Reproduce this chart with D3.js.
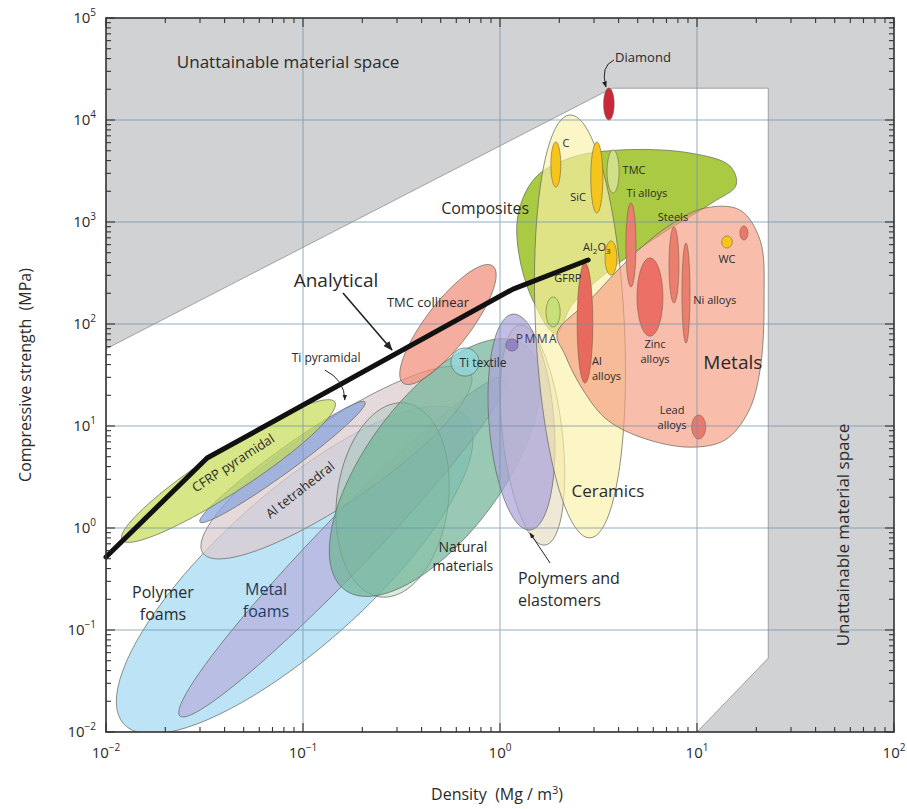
<!DOCTYPE html>
<html>
<head>
<meta charset="utf-8">
<script src="https://cdn.jsdelivr.net/npm/d3@7"></script>
<style>
  body { margin: 0; background: #fff; }
  text { font-family: "Open Sans", "Noto Sans", sans-serif; fill: #2a2a2a; }
</style>
</head>
<body>
<svg id="chart" width="907" height="809"></svg>
<script>
// ---- axes ----
const xDomain = [0.01, 100];          // density, Mg/m^3
const yDomain = [0.01, 1e5];          // compressive strength, MPa
const xTickValues = [0.01, 0.1, 1, 10, 100];
const xTickExponents = ["\u22122", "\u22121", "0", "1", "2"];
const yTickValues = [0.01, 0.1, 1, 10, 100, 1000, 1e4, 1e5];
const yTickExponents = ["\u22122", "\u22121", "0", "1", "2", "3", "4", "5"];

// boundary of the attainable region [density, strength]
const attainable = [[0.01, 57], [3.7, 2.05e4], [23, 2.05e4], [23, 0.053], [10, 0.01], [0.01, 0.01]];

// material envelopes: two ends of the long axis [density, strength] and width ratio
const envNames  = ["Polymer foams", "Metal foams", "Al tetrahedral", "Natural (wood)", "Natural materials",
                   "Elastomers", "Polymers", "Ti pyramidal", "CFRP pyramidal", "TMC collinear", "Ti textile"];
const envTipA   = [[0.0123, 0.012], [0.0237, 0.01435], [0.031, 0.569], [0.246, 0.211], [0.163, 0.247],
                   [1.692, 0.68], [1.42, 0.955], [0.030, 1.146], [0.01206, 0.762], [0.322, 26.4], [0.664, 30.9]];
const envTipB   = [[0.67, 12.5], [1.06, 29.6], [0.705, 33.8], [0.33, 16.8], [1.34, 62],
                   [1.263, 97.7], [1.164, 125], [0.2065, 17.2], [0.145, 17.2], [0.92, 370], [0.664, 58.2]];
const envRatio  = [0.33, 0.115, 0.25, 0.57, 0.45, 0.27, 0.30, 0.11, 0.17, 0.30, 1.0];
const envColors = ["#a3d8f2", "#b6b0dc", "#dccace", "#8fc4ad", "#72b497",
                   "#eadfc8", "#aca3da", "#86a4dc", "#c8dc58", "#f08e78", "#93d9e2"];

// composites, ceramics and metals families
const compositesOutline = [[1.234, 1172], [1.506, 2700], [2.265, 4240], [4.06, 5080], [9.2, 4750], [14.7, 3540],
                           [15.8, 2300], [11.9, 1536], [6.49, 746], [3.61, 338], [2.32, 154], [1.92, 80],
                           [1.506, 154], [1.263, 424]];
const ceramicsTips = [[2.265, 11200], [2.864, 0.80]];
const ceramicsRatio = 0.21;
const metalsOutline = [[1.95, 81.6], [2.86, 172], [4.57, 444], [7.29, 935], [11.0, 1372], [16.5, 1312],
                       [20.9, 666], [21.9, 172], [20.9, 35.4], [18.2, 13.7], [13.9, 7.3], [9.2, 6.2],
                       [5.14, 7.8], [3.41, 12.0], [2.55, 25.2], [2.14, 49.7]];

// individual materials
const matNames  = ["GFRP", "Al alloys", "C", "SiC", "TMC", "Al2O3", "Ti alloys", "Steels", "Ni alloys",
                   "Zinc alloys", "WC", "W", "Lead alloys", "Diamond", "PMMA"];
const matTipA   = [[1.86, 184], [2.70, 396], [1.92, 6080], [3.10, 6080], [3.75, 5080], [3.66, 651], [4.62, 1536],
                   [7.64, 893], [8.79, 622], [5.77, 444], [14.2, 729], [17.3, 914], [10.2, 12.8], [3.57, 20600], [1.15, 71.3]];
const matTipB   = [[1.86, 93.5], [2.70, 26.4], [1.92, 2200], [3.10, 1225], [3.75, 1925], [3.66, 302], [4.62, 231],
                   [7.64, 161], [8.79, 65], [5.77, 76], [14.2, 556], [17.3, 666], [10.2, 7.46], [3.57, 10000], [1.15, 54.3]];
const matRatio  = [0.47, 0.13, 0.22, 0.17, 0.28, 0.35, 0.12, 0.13, 0.08, 0.33, 0.9, 0.57, 0.58, 0.33, 1.0];
const matColors = ["#c6e07a", "#e8695e", "#f5c51c", "#f5c51c", "#cfe08a", "#f5c51c", "#ea7f70", "#ea7f70",
                   "#ea7f70", "#ec7066", "#f5c51c", "#e8786c", "#ea7a70", "#c8283a", "#8f84c8"];

// analytical bound
const analytical = [[0.01, 0.52], [0.0326, 4.85], [1.164, 220], [2.80, 424]];

// labels: text lines, anchor [density, strength] of the first line
const labels = [
  { t: ["Unattainable material space"], p: [0.084, 37000], s: 17 },
  { t: ["Unattainable material space"], p: [55.1, 0.853], s: 17, rot: -90 },
  { t: ["Diamond"], p: [3.84, 41500], s: 13, a: "start" },
  { t: ["Composites"], p: [0.84, 1372], s: 16 },
  { t: ["C"], p: [2.16, 5960], s: 11 },
  { t: ["SiC"], p: [2.49, 1757], s: 11 },
  { t: ["TMC"], p: [4.79, 3240], s: 11 },
  { t: ["Ti alloys"], p: [5.57, 1925], s: 11 },
  { t: ["Steels"], p: [7.55, 1120], s: 11 },
  { t: ["GFRP"], p: [2.21, 282], s: 11 },
  { t: ["WC"], p: [14.2, 434], s: 11 },
  { t: ["Ni alloys"], p: [12.3, 172], s: 11 },
  { t: ["Zinc", "alloys"], p: [6.12, 64], s: 11 },
  { t: ["Metals"], p: [15.2, 42.4], s: 19 },
  { t: ["Lead", "alloys"], p: [7.47, 14.2], s: 11 },
  { t: ["Al", "alloys"], p: [2.93, 43], s: 11, a: "start" },
  { t: ["Ceramics"], p: [3.53, 2.31], s: 17 },
  { t: ["PMMA"], p: [1.54, 71.3], s: 12, ls: 1.5, c: "#3b3560" },
  { t: ["Ti textile"], p: [0.82, 41.5], s: 12 },
  { t: ["TMC collinear"], p: [0.431, 164], s: 13 },
  { t: ["Analytical"], p: [0.147, 270], s: 19 },
  { t: ["Ti pyramidal"], p: [0.131, 46.4], s: 12 },
  { t: ["CFRP pyramidal"], p: [0.0442, 4.34], s: 13, rot: -33 },
  { t: ["Al tetrahedral"], p: [0.0966, 2.36], s: 13, rot: -38 },
  { t: ["Polymer", "foams"], p: [0.01945, 0.232], s: 16 },
  { t: ["Metal", "foams"], p: [0.0649, 0.248], s: 16, c: "#1f3c63" },
  { t: ["Natural", "materials"], p: [0.648, 0.65], s: 14 },
  { t: ["Polymers and", "elastomers"], p: [1.234, 0.32], s: 16, a: "start" }
];

// pointer arrows [start, (control), end]
const arrows = [
  { pts: [[0.1596, 201], [0.283, 55.6]], w: 1.6 },
  { pts: [[0.129, 35.4], [0.163, 28.2], [0.163, 18.0]], w: 1 },
  { pts: [[1.795, 0.454], [1.42, 0.893]], w: 1 },
  { pts: [[3.79, 38700], [3.22, 33800], [3.45, 21100]], w: 1 }
];

// ---- drawing ----
const svg = d3.select("#chart");
const x = d3.scaleLog().domain(xDomain).range([106, 894]);
const y = d3.scaleLog().domain(yDomain).range([732, 18]);
const [x0, x1] = x.range(), [y1, y0] = y.range();

svg.append("defs").append("clipPath").attr("id", "plot")
  .append("rect").attr("x", x0).attr("y", y0).attr("width", x1 - x0).attr("height", y1 - y0);
const marker = svg.select("defs").append("marker").attr("id", "head")
  .attr("viewBox", "0 0 10 10").attr("refX", 9).attr("refY", 5)
  .attr("markerWidth", 6).attr("markerHeight", 6).attr("orient", "auto-start-reverse");
marker.append("path").attr("d", "M0,1 L10,5 L0,9 z").attr("fill", "#222");

const plot = svg.append("g").attr("clip-path", "url(#plot)");

// unattainable (grey) and attainable (white) space
plot.append("rect").attr("x", x0).attr("y", y0).attr("width", x1 - x0).attr("height", y1 - y0).attr("fill", "#d1d2d4");
plot.append("path")
  .attr("d", d3.line().x(d => x(d[0])).y(d => y(d[1])).curve(d3.curveLinearClosed)(attainable))
  .attr("fill", "#fff").attr("stroke", "#8d8f92").attr("stroke-width", 0.8);

function ellipsePath(a, b, r) {
  const ax = x(a[0]), ay = y(a[1]), bx = x(b[0]), by = y(b[1]);
  const cx = (ax + bx) / 2, cy = (ay + by) / 2, ux = (ax - bx) / 2, uy = (ay - by) / 2;
  const vx = -uy * r, vy = ux * r;
  const pts = d3.range(90).map(i => {
    const t = i / 90 * 2 * Math.PI;
    return [cx + Math.cos(t) * ux + Math.sin(t) * vx, cy + Math.cos(t) * uy + Math.sin(t) * vy];
  });
  return d3.line().curve(d3.curveLinearClosed)(pts);
}
const outline = d3.line().x(d => x(d[0])).y(d => y(d[1])).curve(d3.curveCatmullRomClosed.alpha(0.5));
const edge = "#5e6458";

// lattice, foam, natural and polymer envelopes
envNames.forEach((n, i) => {
  plot.append("path").attr("class", "env").attr("data-name", n)
    .attr("d", ellipsePath(envTipA[i], envTipB[i], envRatio[i]))
    .attr("fill", envColors[i]).attr("fill-opacity", i === 3 ? 0.35 : 0.72)
    .attr("stroke", edge).attr("stroke-width", 0.7);
});

// composites, ceramics, metals
plot.append("path").attr("d", outline(compositesOutline))
  .attr("fill", "#a6c73a").attr("fill-opacity", 0.95).attr("stroke", edge).attr("stroke-width", 0.7);
plot.append("path").attr("d", ellipsePath(ceramicsTips[0], ceramicsTips[1], ceramicsRatio))
  .attr("fill", "#fbf0a8").attr("fill-opacity", 0.66).attr("stroke", edge).attr("stroke-width", 0.7);
plot.append("path").attr("d", outline(metalsOutline))
  .attr("fill", "#f49c80").attr("fill-opacity", 0.66).attr("stroke", edge).attr("stroke-width", 0.7);

// individual materials
matNames.forEach((n, i) => {
  plot.append("path").attr("class", "mat").attr("data-name", n)
    .attr("d", ellipsePath(matTipA[i], matTipB[i], matRatio[i]))
    .attr("fill", matColors[i]).attr("stroke", "#7a5a3a").attr("stroke-width", 0.6);
});

// grid
const grid = svg.append("g").attr("stroke", "#6f93ad").attr("stroke-width", 1).attr("opacity", 0.75);
xTickValues.slice(1, -1).forEach(v => grid.append("line").attr("x1", x(v)).attr("x2", x(v)).attr("y1", y0).attr("y2", y1));
yTickValues.slice(1, -1).forEach(v => grid.append("line").attr("y1", y(v)).attr("y2", y(v)).attr("x1", x0).attr("x2", x1));

// analytical bound
svg.append("path")
  .attr("d", d3.line().x(d => x(d[0])).y(d => y(d[1]))(analytical))
  .attr("fill", "none").attr("stroke", "#111").attr("stroke-width", 5)
  .attr("stroke-linejoin", "round").attr("stroke-linecap", "round");

// arrows
arrows.forEach(a => {
  const p = a.pts.map(d => [x(d[0]), y(d[1])]);
  const d = p.length === 2 ? `M${p[0]}L${p[1]}` : `M${p[0]}Q${p[1]} ${p[2]}`;
  svg.append("path").attr("d", d).attr("fill", "none").attr("stroke", "#222")
    .attr("stroke-width", a.w).attr("marker-end", "url(#head)");
});

// labels: one text element per line
labels.forEach(l => {
  const px = x(l.p[0]), py = y(l.p[1]);
  const g = svg.append("g")
    .attr("transform", `translate(${px},${py})` + (l.rot ? ` rotate(${l.rot})` : ""));
  l.t.forEach((line, k) => {
    g.append("text").attr("x", 0).attr("y", k * l.s * 1.38).attr("dy", "0.35em")
      .attr("text-anchor", l.a || "middle").attr("font-size", l.s)
      .style("letter-spacing", l.ls ? l.ls + "px" : null)
      .style("fill", l.c || null)
      .text(line);
  });
});
// Al2O3 with subscripts
{
  const t = svg.append("text").attr("x", x(3.10)).attr("y", y(569) + 4)
    .attr("text-anchor", "middle").attr("font-size", 11);
  t.append("tspan").text("Al");
  t.append("tspan").attr("font-size", 8).attr("dy", 3).text("2");
  t.append("tspan").attr("dy", -3).text("O");
  t.append("tspan").attr("font-size", 8).attr("dy", 3).text("3");
}

// ticks and frame
const ax = svg.append("g").attr("stroke", "#333").attr("stroke-width", 1.1);
const minors = (lo, hi) => {
  const out = [];
  for (let e = lo; e < hi; e++) for (let k = 2; k <= 9; k++) out.push(k * Math.pow(10, e));
  return out;
};
minors(-2, 2).forEach(v => {
  ax.append("line").attr("x1", x(v)).attr("x2", x(v)).attr("y1", y1).attr("y2", y1 - 5);
  ax.append("line").attr("x1", x(v)).attr("x2", x(v)).attr("y1", y0).attr("y2", y0 + 5);
});
xTickValues.forEach(v => {
  ax.append("line").attr("x1", x(v)).attr("x2", x(v)).attr("y1", y1).attr("y2", y1 - 9);
  ax.append("line").attr("x1", x(v)).attr("x2", x(v)).attr("y1", y0).attr("y2", y0 + 9);
});
minors(-2, 5).forEach(v => {
  ax.append("line").attr("y1", y(v)).attr("y2", y(v)).attr("x1", x0).attr("x2", x0 + 5);
  ax.append("line").attr("y1", y(v)).attr("y2", y(v)).attr("x1", x1).attr("x2", x1 - 5);
});
yTickValues.forEach(v => {
  ax.append("line").attr("y1", y(v)).attr("y2", y(v)).attr("x1", x0).attr("x2", x0 + 9);
  ax.append("line").attr("y1", y(v)).attr("y2", y(v)).attr("x1", x1).attr("x2", x1 - 9);
});
svg.append("rect").attr("x", x0).attr("y", y0).attr("width", x1 - x0).attr("height", y1 - y0)
  .attr("fill", "none").attr("stroke", "#333").attr("stroke-width", 1.6);

// tick labels
xTickValues.forEach((v, i) => {
  const t = svg.append("text").attr("x", x(v)).attr("y", 758).attr("text-anchor", "middle").attr("font-size", 15);
  t.append("tspan").text("10");
  t.append("tspan").attr("font-size", 10).attr("dy", -7).text(xTickExponents[i]);
});
yTickValues.forEach((v, i) => {
  const t = svg.append("text").attr("x", 96).attr("y", y(v) + 5).attr("text-anchor", "end").attr("font-size", 15);
  t.append("tspan").text("10");
  t.append("tspan").attr("font-size", 10).attr("dy", -7).text(yTickExponents[i]);
});

// axis titles
{
  const t = svg.append("text").attr("x", 497).attr("y", 800).attr("text-anchor", "middle").attr("font-size", 16);
  t.append("tspan").text("Density\u00a0\u00a0(Mg / m");
  t.append("tspan").attr("font-size", 11).attr("dy", -6).text("3");
  t.append("tspan").attr("dy", 6).text(")");
}
svg.append("text").attr("transform", "translate(31,375) rotate(-90)").attr("text-anchor", "middle")
  .attr("font-size", 16).text("Compressive strength\u00a0\u00a0(MPa)");
</script>
</body>
</html>
